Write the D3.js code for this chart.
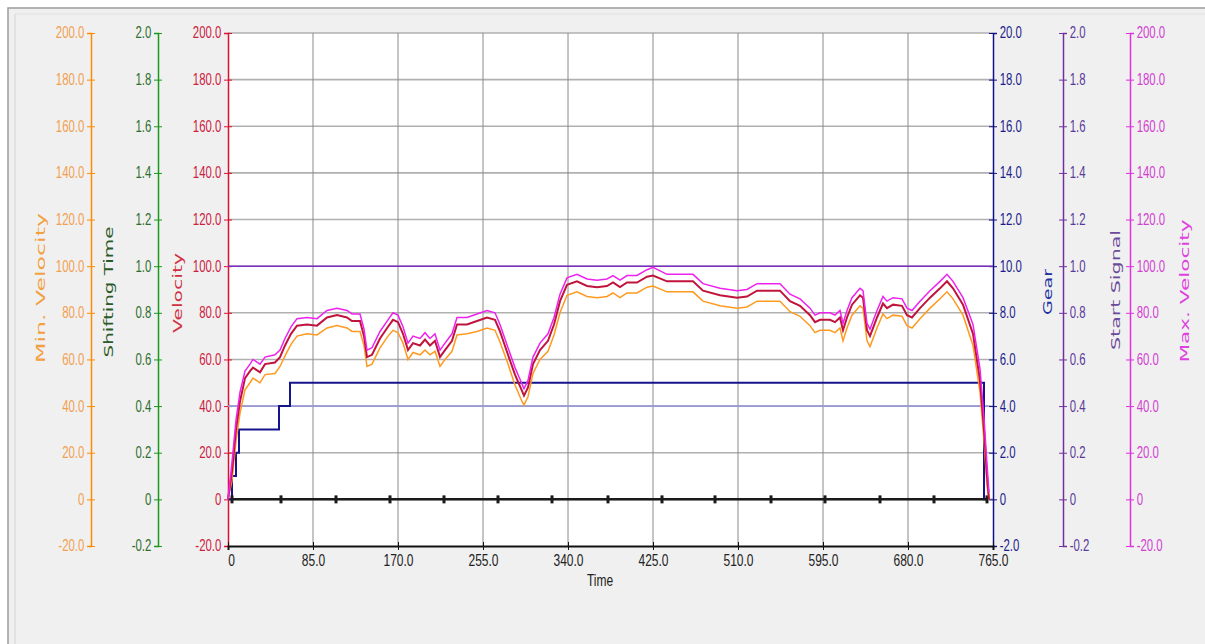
<!DOCTYPE html>
<meta charset="utf-8">
<script src="https://d3js.org/d3.v7.min.js"></script>
<style>
  body { margin: 0; background: #fff; }
  text { font-family: "Liberation Sans", Arial, sans-serif; }
</style>
<div id="chart"></div>
<script>

// ---- data ----
var timeTicks = [0, 85, 170, 255, 340, 425, 510, 595, 680, 765];
var velTicks = [-20, 0, 20, 40, 60, 80, 100, 120, 140, 160, 180, 200];
var fracTicks = [-0.2, 0, 0.2, 0.4, 0.6, 0.8, 1.0, 1.2, 1.4, 1.6, 1.8, 2.0];
var gearTicks = [-2, 0, 2, 4, 6, 8, 10, 12, 14, 16, 18, 20];

var time = [0,4,8,12,17,22,25,32,37,47,52,57,63,69,79,89,99,109,119,124,132,136,139,144,152,160,165,170,175,180,185,192,197,202,207,212,217,224,229,239,249,259,267,272,280,287,294,296,300,305,312,320,326,332,339,349,359,369,379,385,392,399,409,419,425,439,465,475,492,509,519,529,552,562,572,582,587,592,602,607,612,615,619,624,632,635,639,642,649,655,659,665,674,679,684,692,702,712,719,725,735,745,752,756,759,761];
var velocity = [0,12,30,42,52,55,56.5,54.5,58,58.7,61,66,71,74.5,75,74.5,78,79,78,76.5,76.5,70,61,62,69,74,77,76,71,64,67,66,68.5,66,68,61,64,68,75,75,76.5,78,77,72,62,53.5,46.5,44.5,48,58,64,68,75,85,92,93.5,91.5,91,91.5,93,91,93,93,95.5,96,93.5,93.5,89.5,87.5,86.5,87,89.5,89.5,85,83,79,76,77,77,76,78,72.5,78,83.5,87.5,86.5,72.5,70,78,84,82,83.5,83,79,78,82,86.5,90.5,93.5,90.5,83.5,71,51,30,10,0];
var maxVelocity = [0,16,34,46,55,58,60,58,61,62,64,69,74,77.5,78,77.5,81,82,81,79.5,79.5,73,64,65,72,77,80,79,74,67,70,69,71.5,69,71,64,67,71,78,78,79.5,81,80,75,65,56.5,49.5,47.5,51,61,67,71,78,88,95,96.5,94.5,94,94.5,96,94,96,96,98.5,99.5,96.5,96.5,92.5,90.5,89.5,90,92.5,92.5,88,86,82,79,80,80,79,81,75.5,81,86.5,90.5,89.5,75.5,73,81,87,85,86.5,86,82,81,85,89.5,93.5,96.5,93.5,86.5,75,56,35,15,3];
var minVelocity = [0,8,25,37,47,50,52,50,53.5,54,57,61.5,66.5,70,71,70.5,73.5,74.5,73.5,72,72,66,57,58,65,70,72.5,71.5,67,60,63,62,64,62,63.5,57,60,63.5,70.5,71,72,73.5,72.5,67.5,58,49,42,40.5,44,54,60,63.5,70.5,80,87.5,89,87,86.5,87,88.5,86.5,88.5,88.5,91,91.5,89,89,85,83,82,82.5,85,85,80.5,78.5,74.5,71.5,72.5,72.5,71.5,73.5,68,73.5,79,83,82,68,65.5,73.5,79.5,77.5,79,78.5,74.5,73.5,77.5,82,86,89,86,79,66,46,25,6,0];

var gearTime = [0, 4, 8, 11, 51, 62, 756, 760];
var gear = [0, 1, 2, 3, 4, 5, 0, 0];

var startTime = [0, 765];
var startSignal = [1.0, 1.0];

var shiftRefTime = [0, 760];
var shiftRef = [0.4, 0.4];

var shiftTime = [4, 53, 108, 162, 216, 270, 324, 380, 434, 487, 543, 597, 652, 706, 759];
var shiftValue = [0, 0, 0, 0, 0, 0, 0, 0, 0, 0, 0, 0, 0, 0, 0];

// ---- layout ----
var W = 1205, H = 644;
var plot = {left: 228, right: 993, top: 33, bottom: 546};

var svg = d3.select("#chart").append("svg")
  .attr("width", W).attr("height", H);

// panel
svg.append("rect").attr("x", 8).attr("y", 8).attr("width", W).attr("height", H)
  .attr("fill", "#f0f0f0").attr("stroke", "#9c9c9c").attr("stroke-width", 1.5);
svg.append("line").attr("x1", 15).attr("x2", 15).attr("y1", 14).attr("y2", H)
  .attr("stroke", "#d4d4d4");
svg.append("line").attr("x1", 15).attr("x2", W).attr("y1", 14).attr("y2", 14)
  .attr("stroke", "#e0e0e0");

svg.append("rect")
  .attr("x", plot.left).attr("y", plot.top)
  .attr("width", plot.right - plot.left).attr("height", plot.bottom - plot.top)
  .attr("fill", "#ffffff");

// scales
var x = d3.scaleLinear().domain([0, 765]).range([plot.left, plot.right]);
var yVel = d3.scaleLinear().domain([-20, 200]).range([plot.bottom, plot.top]);
var yMin = d3.scaleLinear().domain([-20, 200]).range([plot.bottom, plot.top]);
var yMax = d3.scaleLinear().domain([-20, 200]).range([plot.bottom, plot.top]);
var yShift = d3.scaleLinear().domain([-0.2, 2.0]).range([plot.bottom, plot.top]);
var yStart = d3.scaleLinear().domain([-0.2, 2.0]).range([plot.bottom, plot.top]);
var yGear = d3.scaleLinear().domain([-2, 20]).range([plot.bottom, plot.top]);

function fmt(d) { return Math.abs(d) < 1e-9 ? "0" : d.toFixed(1); }

// grid
var grid = svg.append("g");
grid.selectAll(".hg").data(velTicks.slice(1)).enter().append("line")
  .attr("x1", plot.left).attr("x2", plot.right)
  .attr("y1", function(d) { return yVel(d); }).attr("y2", function(d) { return yVel(d); })
  .attr("stroke", "#b0b0b0").attr("stroke-width", 1.6);
grid.selectAll(".vg").data(timeTicks.slice(1, -1)).enter().append("line")
  .attr("y1", plot.top).attr("y2", plot.bottom)
  .attr("x1", function(d) { return x(d); }).attr("x2", function(d) { return x(d); })
  .attr("stroke", "#8a8a8a").attr("stroke-width", 1);

// y axes: [scale, position, side, ticks, axis colour, label colour]
var axes = [
  [yMin, 91, "left", velTicks, "#ff8c00", "#f2a050"],
  [yShift, 158, "left", fracTicks, "#1a9a1a", "#2e6e2e"],
  [yVel, 228, "left", velTicks, "#dd1030", "#cc2040"],
  [yGear, 993, "right", gearTicks, "#10108a", "#1c1c8c"],
  [yStart, 1063, "right", fracTicks, "#7030a0", "#5a3a9a"],
  [yMax, 1130, "right", velTicks, "#e030e0", "#d040d0"]
];

axes.forEach(function(a) {
  var ax = (a[2] == "left" ? d3.axisLeft(a[0]) : d3.axisRight(a[0]))
    .tickValues(a[3]).tickFormat(fmt).tickSize(4).tickPadding(3);
  var g = svg.append("g")
    .attr("transform", "translate(" + a[1] + ",0)")
    .call(ax);
  g.select(".domain").attr("stroke", a[4]).attr("stroke-width", 1.5);
  g.selectAll(".tick line").attr("stroke", a[4]).attr("x1", -4).attr("x2", 4);
  g.selectAll(".tick text")
    .attr("fill", a[5]).style("font-size", "12px")
    .attr("transform", "scale(0.95,1.3)");
});

// x axis
var gx = svg.append("g")
  .attr("transform", "translate(0," + plot.bottom + ")")
  .call(d3.axisBottom(x).tickValues(timeTicks).tickFormat(fmt).tickSize(4).tickPadding(3));
gx.select(".domain").attr("stroke", "#111").attr("stroke-width", 2);
gx.selectAll(".tick line").attr("stroke", "#111").attr("y1", -4).attr("y2", 4);
gx.selectAll(".tick text").attr("fill", "#222").style("font-size", "12px")
  .attr("transform", "scale(1,1.3)");
gx.select(".tick text").attr("dx", "3px");

// axis titles: [text, x, y centre, length, colour]
var titles = [
  ["Min. Velocity", 45, 288, 150, "#f2a040"],
  ["Shifting Time", 113, 292, 131, "#2a5a2a"],
  ["Velocity", 182, 293, 80, "#d03040"],
  ["Gear", 1052, 292, 46, "#2030a0"],
  ["Start Signal", 1120, 290, 120, "#6a4a9a"],
  ["Max. Velocity", 1189, 291, 143, "#e040e0"]
];
svg.selectAll(".ytitle").data(titles).enter().append("text")
  .attr("transform", function(d) { return "translate(" + d[1] + "," + d[2] + ") rotate(-90)"; })
  .attr("text-anchor", "middle")
  .attr("textLength", function(d) { return d[3]; })
  .attr("lengthAdjust", "spacingAndGlyphs")
  .style("font-family", "'DejaVu Sans', Verdana, sans-serif")
  .style("font-size", "13px")
  .attr("fill", function(d) { return d[4]; })
  .text(function(d) { return d[0]; });

svg.append("text")
  .attr("transform", "translate(600,586) scale(1,1.3)")
  .attr("text-anchor", "middle")
  .style("font-size", "12px").attr("fill", "#222")
  .text("Time");

// series
function series(ts, vs, ys, curve) {
  return d3.line()
    .x(function(d, i) { return x(ts[i]); })
    .y(function(d, i) { return ys(vs[i]); })
    .curve(curve || d3.curveLinear)(vs);
}

svg.append("path").attr("d", series(startTime, startSignal, yStart))
  .attr("fill", "none").attr("stroke", "#7a2cc0").attr("stroke-width", 1.6);

svg.append("path").attr("d", series(shiftRefTime, shiftRef, yShift))
  .attr("fill", "none").attr("stroke", "#9a9ad8").attr("stroke-width", 1.6);

svg.append("path").attr("d", series(gearTime, gear, yGear, d3.curveStepAfter))
  .attr("fill", "none").attr("stroke", "#14148e").attr("stroke-width", 2);

svg.append("path").attr("d", series(shiftTime, shiftValue, yShift))
  .attr("fill", "none").attr("stroke", "#1a1a1a").attr("stroke-width", 2.5);
svg.selectAll(".mk").data(shiftTime).enter().append("rect")
  .attr("x", function(d) { return x(d) - 1.5; })
  .attr("y", function(d, i) { return yShift(shiftValue[i]) - 4; })
  .attr("width", 3).attr("height", 8).attr("fill", "#1a1a1a");

svg.append("path").attr("d", series(time, minVelocity, yMin))
  .attr("fill", "none").attr("stroke", "#ff9a20").attr("stroke-width", 1.5);
svg.append("path").attr("d", series(time, velocity, yVel))
  .attr("fill", "none").attr("stroke", "#c0143c").attr("stroke-width", 2);
svg.append("path").attr("d", series(time, maxVelocity, yMax))
  .attr("fill", "none").attr("stroke", "#ee22ee").attr("stroke-width", 1.5);

</script>
